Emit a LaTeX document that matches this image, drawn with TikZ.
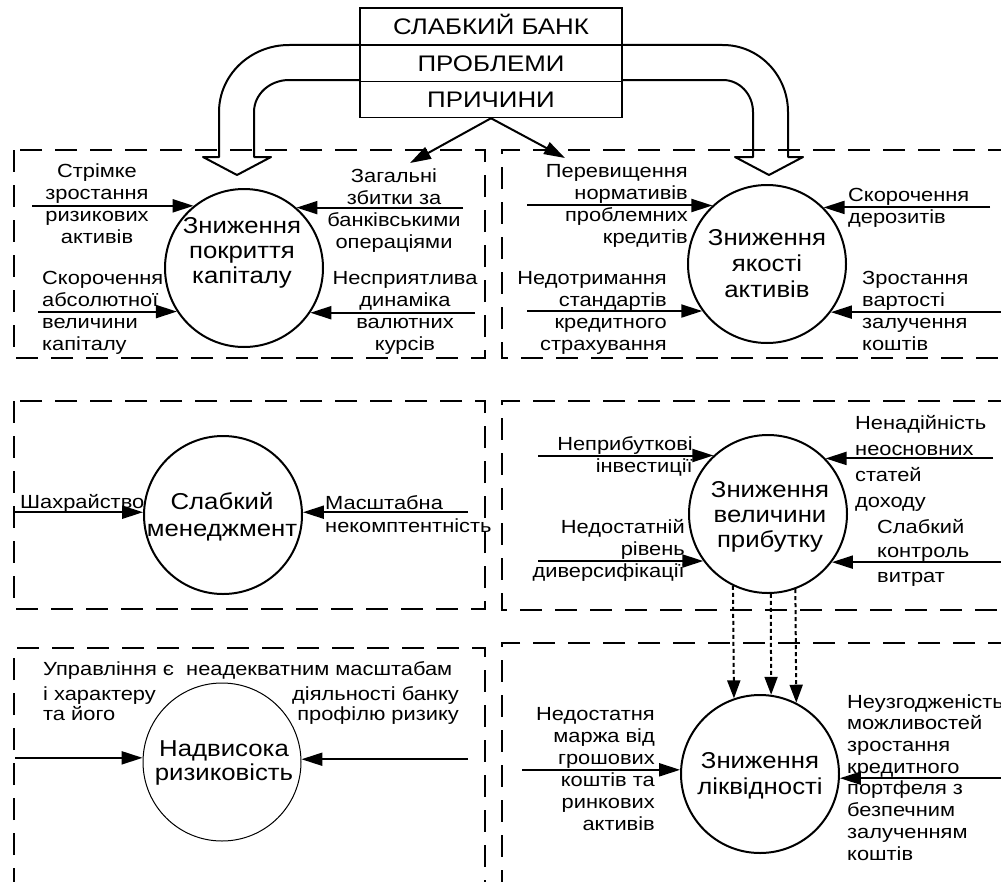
\documentclass[tikz,border=0pt]{standalone}
\usepackage{fontspec}
\setmainfont{Liberation Sans}
\newfontfamily\lblfont{Liberation Sans}[FakeStretch=1.15]
\newfontfamily\circfont{Liberation Sans}[FakeStretch=1.12]
\newfontfamily\hdrfont{Liberation Sans}[FakeStretch=1.15]
\usetikzlibrary{arrows.meta}
\begin{document}
\begin{tikzpicture}[x=1pt,y=-1pt,
  panel/.style={draw, line width=2pt, dash pattern=on 22pt off 13pt},
  circ/.style={draw, circle, line width=2pt, minimum size=158pt, inner sep=0pt},
  thincirc/.style={draw, circle, line width=1pt, minimum size=158pt, inner sep=0pt},
  ctext/.style={font=\circfont\fontsize{23}{25}\selectfont, align=center, inner sep=0pt, anchor=base},
  lbl/.style={font=\lblfont\fontsize{19}{22}\selectfont, inner sep=0pt},
  arr/.style={line width=2pt, -{Triangle[length=21pt,width=13pt]}},
  dotarr/.style={line width=2pt, dash pattern=on 4pt off 3pt, -{Triangle[length=18pt,width=13pt]}},
  hollow/.style={draw, line width=2pt, line join=round},
  hdr/.style={draw, line width=1.5pt, minimum width=262pt, inner sep=0pt,
    text height=15pt, text depth=0pt, font=\hdrfont\fontsize{22.5}{24}\selectfont}
]
\useasboundingbox (0,0) rectangle (1001,881);
\clip (0,0) rectangle (1001,881);

% header stack
\node[hdr, minimum height=37pt] (b1) at (491,26.5) {СЛАБКИЙ БАНК};
\node[hdr, minimum height=36pt] (b2) at (491,63.5) {ПРОБЛЕМИ};
\node[hdr, minimum height=36pt] (b3) at (491,99.5) {ПРИЧИНИ};

% hollow bent arrows
\draw[hollow] (b2.north west) -- (289,45) .. controls (250.4,45) and (219,75) .. (219,112)
  -- (219,157) -- (203,157) -- (237,175) -- (271,157) -- (254,157) -- (254,112)
  .. controls (254,94.3) and (269.7,80) .. (289,80) -- (b2.west |- 0,80);
\draw[hollow] (b2.north east) -- (723,45) .. controls (758.9,45) and (788,75) .. (788,112)
  -- (788,157) -- (803,157) -- (769,175) -- (735,157) -- (753,157) -- (753,112)
  .. controls (753,94.3) and (739.6,80) .. (723,80) -- (b2.east |- 0,80);

% dashed panels
\draw[panel] (14,150) rectangle (485,358);
\draw[panel] (1010,150) -- (502,150) -- (502,358) -- (1010,358);
\draw[panel] (14,401) rectangle (485,609);
\draw[panel] (1010,401) -- (502,401) -- (502,610) -- (1010,610);
\draw[panel] (14,890) -- (14,648) -- (485,648) -- (485,890);
\draw[panel] (1010,643) -- (502,643) -- (502,890);

% small arrows from the header
\coordinate (p1) at (410,163);
\coordinate (p2) at (565,158);
\draw[arr] (b3.south) -- (p1);
\draw[arr] (b3.south) -- (p2);

% problem circles
\node[circ] (c1) at (244,268) {};
\node[circ] (c2) at (767,264) {};
\node[circ] (c3) at (223,515) {};
\node[circ] (c4) at (768,514) {};
\node[thincirc] (c5) at (222,762) {};
\node[circ] (c6) at (760,774) {};

% circle captions (anchored at the last line's baseline)
\node[ctext] (c1t) at (242,283) {Зниження\\покриття\\капіталу};
\node[ctext, font=\circfont\fontsize{23}{26}\selectfont] (c2t) at (767,297) {Зниження\\якості\\активів};
\node[ctext, font=\circfont\fontsize{23}{27}\selectfont] (c3t) at (222,536) {Слабкий\\менеджмент};
\node[ctext] (c4t) at (770,547) {Зниження\\величини\\прибутку};
\node[ctext, font=\circfont\fontsize{23}{24}\selectfont] (c5t) at (224,780) {Надвисока\\ризиковість};
\node[ctext, font=\circfont\fontsize{23}{26}\selectfont] (c6t) at (760,794) {Зниження\\ліквідності};

% causes: capital coverage
\node[lbl, align=center, anchor=base] (t1) at (97,243) {Стрімке\\зростання\\ризикових\\активів};
\node[lbl, align=left, anchor=base west] (t2) at (42,350) {Скорочення\\абсолютної\\величини\\капіталу};
\node[lbl, align=center, anchor=base] (t3) at (394,248) {Загальні\\збитки за\\банківськими\\операціями};
\node[lbl, align=center, anchor=base] (t4) at (405,350) {Несприятлива\\динаміка\\валютних\\курсів};
\coordinate (a1) at (32,0 |- c1.129.2);
\coordinate (a2) at (38,0 |- c1.213.4);
\coordinate (a3) at (463,0 |- c1.49.7);
\coordinate (a4) at (475,0 |- c1.326.6);
\draw[arr] (a1) -- (c1.129.2);
\draw[arr] (a2) -- (c1.213.4);
\draw[arr] (a3) -- (c1.49.7);
\draw[arr] (a4) -- (c1.326.6);

% causes: asset quality
\node[lbl, align=right, anchor=base east] (t5) at (688,243) {Перевищення\\нормативів\\проблемних\\кредитів};
\node[lbl, align=right, anchor=base east] (t6) at (667,350) {Недотримання\\стандартів\\кредитного\\страхування};
\node[lbl, align=left, anchor=base west] (t7) at (848,223) {Скорочення\\дерозитів};
\node[lbl, align=left, anchor=base west] (t8) at (862,350) {Зростання\\вартості\\залучення\\коштів};
\coordinate (a5) at (527,0 |- c2.133.5);
\coordinate (a6) at (527,0 |- c2.216.0);
\coordinate (a7) at (990,0 |- c2.45.4);
\coordinate (a8) at (1005,0 |- c2.323.1);
\draw[arr] (a5) -- (c2.133.5);
\draw[arr] (a6) -- (c2.216.0);
\draw[arr] (a7) -- (c2.45.4);
\draw[arr] (a8) -- (c2.323.1);

% causes: weak management
\node[lbl, anchor=base west] (t9) at (20,508) {Шахрайство};
\node[lbl, align=left, anchor=base west, font=\lblfont\fontsize{19}{23}\selectfont] (t10) at (325,532) {Масштабна\\некомптентність};
\coordinate (a9) at (14,0 |- c3.178.6);
\coordinate (a10) at (468,0 |- c3.2.1);
\draw[arr] (a9) -- (c3.178.6);
\draw[arr] (a10) -- (c3.2.1);

% causes: profit
\node[lbl, align=right, anchor=base east] (t11) at (693,472) {Неприбуткові\\інвестиції};
\node[lbl, align=right, anchor=base east] (t12) at (685,577) {Недостатній\\рівень\\диверсифікації};
\node[lbl, align=left, anchor=base west, font=\lblfont\fontsize{19}{26}\selectfont] (t13) at (855,507) {Ненадійність\\неосновних\\статей\\доходу};
\node[lbl, align=left, anchor=base west, font=\lblfont\fontsize{19}{24.5}\selectfont] (t14) at (877,582) {Слабкий\\контроль\\витрат};
\coordinate (a11) at (538,0 |- c4.133.5);
\coordinate (a12) at (538,0 |- c4.216.9);
\coordinate (a13) at (993,0 |- c4.44.4);
\coordinate (a14) at (1005,0 |- c4.323.1);
\draw[arr] (a11) -- (c4.133.5);
\draw[arr] (a12) -- (c4.216.9);
\draw[arr] (a13) -- (c4.44.4);
\draw[arr] (a14) -- (c4.323.1);

% causes: excessive risk
\node[lbl, anchor=base west] (t15) at (43,675) {Управління є\ \ неадекватним масштабам};
\node[lbl, align=left, anchor=base west, font=\lblfont\fontsize{19}{20}\selectfont] (t16) at (43,720) {і характеру\\та його};
\node[lbl, align=right, anchor=base east, font=\lblfont\fontsize{19}{20}\selectfont] (t17) at (459,720) {діяльності банку\\профілю ризику};
\coordinate (a15) at (15,0 |- c5.177.9);
\coordinate (a16) at (468,0 |- c5.2.1);
\draw[arr] (a15) -- (c5.177.9);
\draw[arr] (a16) -- (c5.2.1);

% causes: liquidity
\node[lbl, align=right, anchor=base east] (t18) at (655,830) {Недостатня\\маржа від\\грошових\\коштів та\\ринкових\\активів};
\node[lbl, align=left, anchor=base west, font=\lblfont\fontsize{19}{21.7}\selectfont] (t19) at (847,860) {Неузгодженість\\можливостей\\зростання\\кредитного\\портфеля з\\безпечним\\залученням\\коштів};
\coordinate (a17) at (522,0 |- c6.177.1);
\coordinate (a18) at (1005,0 |- c6.357.9);
\draw[arr] (a17) -- (c6.177.1);
\draw[arr] (a18) -- (c6.357.9);

% profit feeds liquidity
\draw[dotarr] (c4.244.05) -- (c6.109.7);
\draw[dotarr] (c4.272.1) -- (c6.82.1);
\draw[dotarr] (c4.290.5) -- (c6.63.3);
\end{tikzpicture}
\end{document}
